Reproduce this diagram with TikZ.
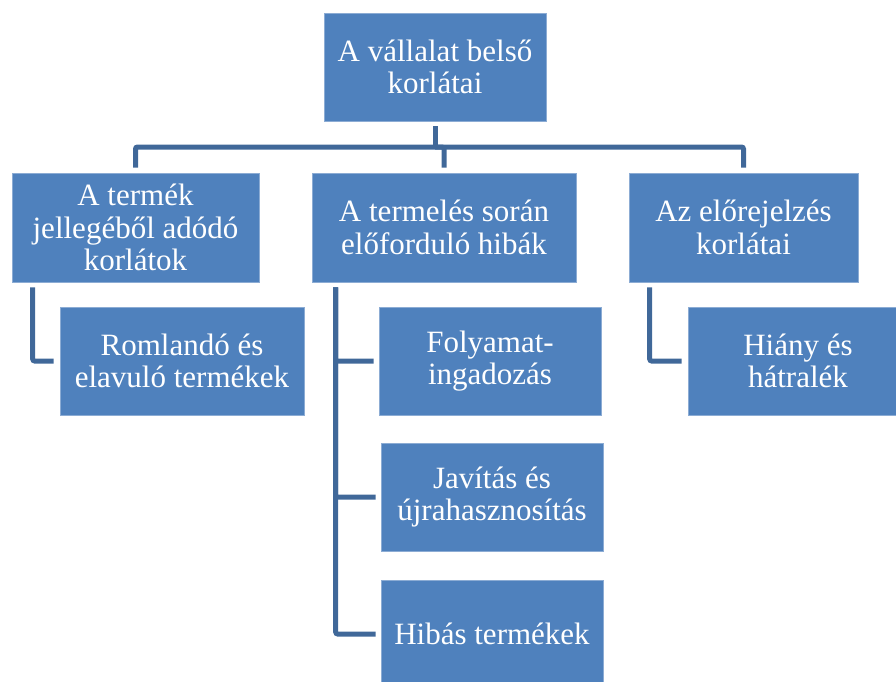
\documentclass[tikz,border=0pt]{standalone}
\usepackage{fontspec}
\setmainfont{Liberation Serif}
\definecolor{boxblue}{RGB}{79,129,189}
\definecolor{boxedge}{RGB}{140,172,212}
\definecolor{linkblue}{RGB}{64,104,153}
\tikzset{
  orgbox/.style={rectangle, fill=boxblue, draw=boxedge, line width=0.6pt,
    text=white, align=center, inner sep=0pt,
    font=\fontsize{31}{32.5}\selectfont},
  conn/.style={draw=linkblue, line width=5pt, rounded corners=2pt}
}
\begin{document}
\begin{tikzpicture}[x=1pt, y=-1pt]
  \useasboundingbox (0,0) rectangle (896,681);
  \clip (0,0) rectangle (896,681);

  % root
  \node[orgbox, minimum width=222pt, minimum height=108pt] (top) at (435,67)
    {A vállalat belső\\korlátai};

  % second level
  \node[orgbox, minimum width=247pt, minimum height=109pt] (b1) at (135.5,227.5)
    {A termék\\jellegéből adódó\\korlátok};
  \node[orgbox, minimum width=264pt, minimum height=109pt] (b2) at (444,227.5)
    {A termelés során\\előforduló hibák};
  \node[orgbox, minimum width=229pt, minimum height=109pt] (b3) at (743.5,227.5)
    {Az előrejelzés\\korlátai};

  % third level
  \node[orgbox, minimum width=244pt, minimum height=108pt] (c1) at (182,361)
    {Romlandó és\\elavuló termékek};
  \node[orgbox, minimum width=222pt, minimum height=108pt] (c2) at (490,361)
    {Folyamat-\\ingadozás};
  \node[orgbox, minimum width=222pt, minimum height=108pt] (c3) at (492,497)
    {Javítás és\\újrahasznosítás};
  \node[orgbox, minimum width=222pt, minimum height=108pt] (c4) at (492,634)
    {Hibás termékek};
  \node[orgbox, minimum width=220pt, minimum height=108pt] (c5) at (798,361)
    {Hiány és\\hátralék};

  % bus below the root
  \coordinate (bus) at (435,147);
  \draw[conn, shorten <=5pt] (top.south) -- (bus);
  \draw[conn, shorten >=5pt] (bus) -| (b1.north);
  \draw[conn, shorten >=5pt] (bus) -| (b2.north);
  \draw[conn, shorten >=5pt] (bus) -| (b3.north);

  % branches to the third level
  \draw[conn, shorten <=5pt, shorten >=6pt] ([xshift=21pt]b1.south west) |- (c1.west);
  \draw[conn, shorten <=5pt, shorten >=5pt] ([xshift=24pt]b2.south west) |- (c2.west);
  \draw[conn, shorten <=5pt, shorten >=5pt] ([xshift=24pt]b2.south west) |- (c3.west);
  \draw[conn, shorten <=5pt, shorten >=5pt] ([xshift=24pt]b2.south west) |- (c4.west);
  \draw[conn, shorten <=5pt, shorten >=6pt] ([xshift=21pt]b3.south west) |- (c5.west);
\end{tikzpicture}
\end{document}
